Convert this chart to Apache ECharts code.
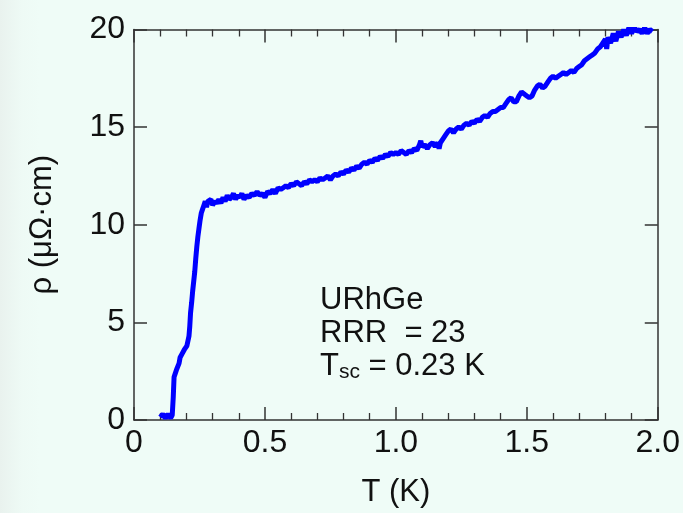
<!DOCTYPE html>
<html>
<head>
<meta charset="utf-8">
<script src="https://cdn.jsdelivr.net/npm/echarts@6/dist/echarts.min.js"></script>
<style>
html,body{margin:0;padding:0;width:683px;height:513px;overflow:hidden;
background:linear-gradient(to right,#e9f2ee 0px,#eefaf5 22px,#effcf7 40px,#effcf7 100%);}
#c{width:683px;height:513px;}
</style>
</head>
<body>
<div id="c"></div>
<script>
// Temperature (K)
const temperature = [
0.100,0.110,0.120,0.130,0.140,0.146,0.150,0.153,0.158,0.163,0.168,0.172,0.176,0.180,0.184,0.188,0.192,0.197,0.202,0.206,
0.210,0.213,0.216,0.220,0.224,0.228,0.232,0.236,0.240,0.244,0.248,0.252,0.257,0.262,0.267,0.272,0.277,0.282,0.288,0.294,
0.300,0.308,0.316,0.324,0.332,0.340,0.348,0.356,0.364,0.372,0.380,0.388,0.396,0.404,0.412,0.420,0.430,0.440,0.450,0.460,
0.470,0.480,0.490,0.500,0.510,0.520,0.530,0.540,0.550,0.560,0.570,0.580,0.590,0.600,0.610,0.620,0.630,0.640,0.650,0.660,
0.670,0.680,0.690,0.700,0.710,0.720,0.730,0.740,0.750,0.760,0.770,0.780,0.790,0.800,0.810,0.820,0.830,0.840,0.850,0.860,
0.870,0.880,0.890,0.900,0.910,0.920,0.930,0.940,0.950,0.960,0.970,0.980,0.990,1.000,1.010,1.020,1.030,1.040,1.050,1.060,
1.070,1.080,1.090,1.095,1.100,1.110,1.120,1.130,1.140,1.150,1.160,1.165,1.170,1.180,1.190,1.200,1.210,1.220,1.230,1.240,
1.250,1.260,1.270,1.280,1.290,1.300,1.310,1.320,1.330,1.340,1.350,1.360,1.370,1.380,1.390,1.400,1.410,1.420,1.430,1.440,
1.450,1.460,1.470,1.480,1.490,1.500,1.510,1.520,1.530,1.540,1.550,1.560,1.565,1.570,1.580,1.590,1.600,1.610,1.620,1.630,
1.640,1.650,1.660,1.670,1.680,1.690,1.700,1.710,1.720,1.730,1.740,1.750,1.760,1.770,1.780,1.790,1.800,1.805,1.810,1.820,
1.830,1.840,1.850,1.860,1.870,1.880,1.890,1.900,1.910,1.920,1.930,1.940,1.950,1.960,1.970,1.980
];
// Resistivity (µΩ·cm)
const resistivity = [
0.15,0.30,0.10,0.30,0.10,0.25,1.2,2.2,2.4,2.6,2.7,2.9,3.2,3.1,3.4,3.3,3.6,3.5,3.8,3.9,
4.3,4.8,5.5,6.0,6.6,7.1,7.6,8.3,8.9,9.4,9.8,10.2,10.6,10.8,11.0,11.2,10.9,11.2,11.1,11.3,
11.0,11.2,11.1,11.3,11.1,11.4,11.2,11.5,11.3,11.4,11.6,11.3,11.5,11.4,11.6,11.3,11.5,11.4,11.6,11.5,
11.7,11.5,11.6,11.4,11.7,11.6,11.8,11.6,11.9,11.8,11.9,12.0,11.9,12.1,12.0,12.2,12.1,12.0,12.2,12.1,
12.3,12.2,12.3,12.2,12.4,12.3,12.4,12.5,12.3,12.5,12.6,12.5,12.7,12.6,12.8,12.7,12.9,12.8,13.0,12.9,
13.1,13.2,13.1,13.3,13.2,13.4,13.3,13.5,13.4,13.6,13.5,13.7,13.6,13.7,13.6,13.8,13.7,13.6,13.8,13.7,
13.9,13.8,14.1,14.3,14.0,14.1,13.9,14.1,14.2,14.0,14.2,13.9,14.2,14.4,14.6,14.8,14.9,14.7,14.9,15.0,
14.9,15.1,15.2,15.1,15.3,15.2,15.4,15.3,15.5,15.6,15.5,15.7,15.8,15.8,15.9,16.0,16.0,16.2,16.4,16.5,
16.3,16.3,16.6,16.8,16.7,16.6,16.5,16.6,16.9,17.1,17.2,17.0,16.9,17.1,17.3,17.5,17.6,17.5,17.6,17.7,
17.8,17.7,17.8,17.9,17.8,18.0,18.1,18.2,18.4,18.5,18.6,18.7,18.8,19.0,19.1,19.3,19.5,19.0,19.6,19.3,
19.8,19.4,19.9,19.6,20.0,19.7,20.1,19.8,20.1,19.9,20.0,19.8,20.1,19.8,20.0,19.9
];
const xTicks = ['0','0.5','1.0','1.5','2.0'];
const yTicks = ['0','5','10','15','20'];
const xTitle = 'T (K)';
const yTitle = 'ρ (μΩ·cm)';
const noteLines = ['URhGe', 'RRR  = 23'];

const font = 'Liberation Sans, Arial, Helvetica, sans-serif';
const axisCol = '#333333';
const chart = echarts.init(document.getElementById('c'), null, {renderer:'canvas'});
const pts = temperature.map((t,i)=>[t, resistivity[i]]);
const xFmt = v => { const i = Math.round(v/0.5); return Math.abs(v - i*0.5) < 1e-6 ? xTicks[i] : ''; };
const yFmt = v => { const i = Math.round(v/5); return yTicks[i] || ''; };

const baseX = {
  type:'value', min:0, max:2, interval:0.5,
  axisLine:{show:true, onZero:false, lineStyle:{color:axisCol, width:1.5}},
  axisTick:{show:true, inside:true, length:13, lineStyle:{color:axisCol, width:1.5}},
  minorTick:{show:true, splitNumber:5, length:7, lineStyle:{color:axisCol, width:1.3}},
  splitLine:{show:false}, minorSplitLine:{show:false}
};
const baseY = {
  type:'value', min:0, max:20, interval:5,
  axisLine:{show:true, onZero:false, lineStyle:{color:axisCol, width:1.5}},
  axisTick:{show:true, inside:true, length:13, lineStyle:{color:axisCol, width:1.5}},
  splitLine:{show:false}
};

chart.setOption({
  backgroundColor:'transparent',
  animation:false,
  grid:{left:134, right:25, top:29.5, bottom:91.5, containLabel:false},
  xAxis:[
    Object.assign({}, baseX, {position:'bottom',
      axisLabel:{show:true, formatter:xFmt, color:'#111', fontSize:32, fontFamily:font, margin:7},
      name:xTitle, nameLocation:'middle', nameGap:57,
      nameTextStyle:{color:'#111', fontSize:31, fontFamily:font}}),
    Object.assign({}, baseX, {position:'top', axisLabel:{show:false}})
  ],
  yAxis:[
    Object.assign({}, baseY, {position:'left',
      axisLabel:{show:true, formatter:yFmt, color:'#111', fontSize:32, fontFamily:font, margin:9},
      name:yTitle, nameLocation:'middle', nameGap:76, nameRotate:90,
      nameTextStyle:{color:'#111', fontSize:31, fontFamily:font}}),
    Object.assign({}, baseY, {position:'right', axisLabel:{show:false}})
  ],
  series:[{
    type:'line', xAxisIndex:0, yAxisIndex:0, data:pts,
    showSymbol:false, symbol:'none', clip:true,
    lineStyle:{color:'#0000ff', width:5, join:'bevel', cap:'butt'}
  }],
  graphic:[{
    type:'text', left:320, top:284,
    style:{
      text: noteLines[0] + '\n' + noteLines[1] + '\n{t|T}{s|sc}{t| = 0.23 K}',
      fill:'#111', font:'31px ' + font, lineHeight:33,
      rich:{
        t:{fontSize:31, fontFamily:font, fill:'#111', lineHeight:33},
        s:{fontSize:21, fontFamily:font, fill:'#111', lineHeight:33, padding:[16,0,0,0], verticalAlign:'bottom'}
      }
    }
  }]
});
</script>
</body>
</html>
